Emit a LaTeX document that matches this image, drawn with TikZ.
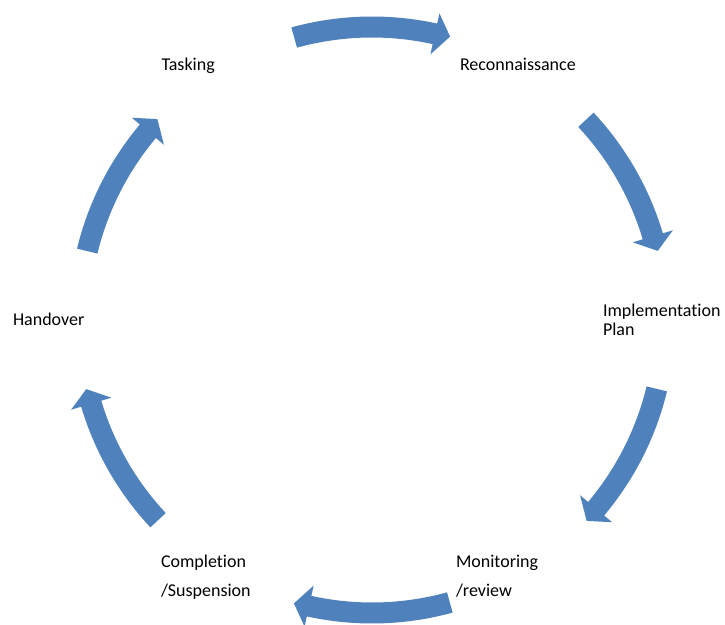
\documentclass[tikz,border=0pt]{standalone}
\usepackage{fontspec}
\setmainfont{Carlito}[Ligatures={NoCommon}]
\usetikzlibrary{calc}
\definecolor{arrowblue}{HTML}{4F81BD}
\tikzset{
  lbl/.style={anchor=base west, inner sep=0pt, outer sep=0pt, font=\fontsize{18}{18.3}\selectfont, text=black},
}
% #1 name, #2 tail angle, #3 tip angle (clockwise: #2 > #3)
\newcommand\cyclearrow[3]{%
  \pgfmathsetmacro\hb{#3+3}%
  \fill[arrowblue] ($(C)+(#2:303.5pt)$) coordinate (#1-tail)
    arc[start angle=#2, end angle=\hb, radius=303.5pt]
    -- ($(C)+(\hb:314pt)$)
    -- ($(C)+(#3:294pt)$) coordinate (#1-tip)
    -- ($(C)+(\hb:272pt)$)
    -- ($(C)+(\hb:282.5pt)$)
    arc[start angle=\hb, end angle=#2, radius=282.5pt]
    -- cycle;%
}
\begin{document}
\begin{tikzpicture}[x=1pt,y=1pt]
\useasboundingbox (0,0) rectangle (725,624);
\coordinate (C) at (372,304);

\cyclearrow{a1}{105.4}{74.6}
\cyclearrow{a2}{43.1}{13.6}
\cyclearrow{a3}{-13.6}{-43.1}
\cyclearrow{a4}{-74.6}{-105.4}
\cyclearrow{a5}{-136.9}{-166.4}
\cyclearrow{a6}{166.4}{136.9}

\node[lbl] (tasking) at (161.5,553) {Tasking};
\node[lbl] (recon) at (460,553) {Reconnaissance};
\node[lbl] (impl) at (603,307) {\begin{tabular}[t]{@{}l@{}}Implementation\\Plan\end{tabular}};
\node[lbl] (handover) at (13,298) {Handover};
\node[lbl] (monitor) at (456,57) {\begin{tabular}[t]{@{}l@{}}Monitoring\\[10.7pt]/review\end{tabular}};
\node[lbl] (complete) at (161,57) {\begin{tabular}[t]{@{}l@{}}Completion\\[10.7pt]/Suspension\end{tabular}};
\end{tikzpicture}
\end{document}
